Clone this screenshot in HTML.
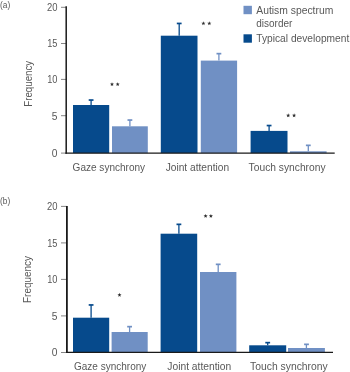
<!DOCTYPE html>
<html><head><meta charset="utf-8">
<style>
html,body{margin:0;padding:0;background:#fff;}
body{width:350px;height:372px;overflow:hidden;font-family:"Liberation Sans",sans-serif;}
svg{display:block;opacity:0.999;will-change:transform;}
text{font-family:"Liberation Sans",sans-serif;fill:#585858;}
</style></head><body>
<svg width="350" height="372" viewBox="0 0 350 372">
<rect width="350" height="372" fill="#fff"/>
<g>
<text x="0" y="8.2" font-size="9" textLength="10.2" lengthAdjust="spacingAndGlyphs">(a)</text>
<text x="47.0" y="11.1" font-size="11" textLength="10.5" lengthAdjust="spacingAndGlyphs">20</text>
<line x1="61" y1="7.3" x2="66.2" y2="7.3" stroke="#666" stroke-width="0.8"/>
<text x="47.2" y="47.3" font-size="11" textLength="10.3" lengthAdjust="spacingAndGlyphs">15</text>
<line x1="61" y1="43.5" x2="66.2" y2="43.5" stroke="#666" stroke-width="0.8"/>
<text x="47.2" y="83.2" font-size="11" textLength="10.3" lengthAdjust="spacingAndGlyphs">10</text>
<line x1="61" y1="79.4" x2="66.2" y2="79.4" stroke="#666" stroke-width="0.8"/>
<text x="51.8" y="119.5" font-size="11" textLength="5.7" lengthAdjust="spacingAndGlyphs">5</text>
<line x1="61" y1="115.7" x2="66.2" y2="115.7" stroke="#666" stroke-width="0.8"/>
<text x="51.8" y="156.9" font-size="11" textLength="5.7" lengthAdjust="spacingAndGlyphs">0</text>
<line x1="61" y1="153.1" x2="66.2" y2="153.1" stroke="#666" stroke-width="0.8"/>
<text transform="translate(31.8,106.8) rotate(-90)" font-size="11" textLength="46" lengthAdjust="spacingAndGlyphs">Frequency</text>
<rect x="73" y="105" width="36.2" height="48.1" fill="#064a8c"/>
<path d="M91.1 105V100" stroke="#064a8c" stroke-width="1.3" fill="none"/><rect x="88.7" y="99.2" width="4.8" height="1.7" fill="#064a8c"/>
<rect x="112" y="126.3" width="35.8" height="26.8" fill="#7090c4"/>
<path d="M129.9 126.3V120" stroke="#7090c4" stroke-width="1.3" fill="none"/><rect x="127.5" y="119.2" width="4.8" height="1.7" fill="#7090c4"/>
<rect x="160.8" y="35.7" width="36.7" height="117.4" fill="#064a8c"/>
<path d="M179.2 35.7V23.4" stroke="#064a8c" stroke-width="1.3" fill="none"/><rect x="176.8" y="22.6" width="4.8" height="1.7" fill="#064a8c"/>
<rect x="200.8" y="60.6" width="36.3" height="92.5" fill="#7090c4"/>
<path d="M218.9 60.6V53.6" stroke="#7090c4" stroke-width="1.3" fill="none"/><rect x="216.5" y="52.8" width="4.8" height="1.7" fill="#7090c4"/>
<rect x="250.6" y="130.9" width="36.9" height="22.2" fill="#064a8c"/>
<path d="M269.1 130.9V125.5" stroke="#064a8c" stroke-width="1.3" fill="none"/><rect x="266.7" y="124.7" width="4.8" height="1.7" fill="#064a8c"/>
<rect x="290" y="151.3" width="36.6" height="1.8" fill="#7090c4"/>
<path d="M308.3 151.3V145.3" stroke="#7090c4" stroke-width="1.3" fill="none"/><rect x="305.9" y="144.5" width="4.8" height="1.7" fill="#7090c4"/>
<line x1="66.2" y1="6.2" x2="66.2" y2="153.7" stroke="#1a1a1a" stroke-width="1.5"/>
<line x1="65.45" y1="153.1" x2="334.7" y2="153.1" stroke="#1a1a1a" stroke-width="1.2"/>
<text x="72.6" y="171.4" font-size="10.8" textLength="72.5" lengthAdjust="spacingAndGlyphs">Gaze synchrony</text>
<text x="165.7" y="171.4" font-size="10.8" textLength="63.4" lengthAdjust="spacingAndGlyphs">Joint attention</text>
<text x="248.6" y="171.4" font-size="10.8" textLength="77" lengthAdjust="spacingAndGlyphs">Touch synchrony</text>
<polygon points="112.00,82.15 112.53,83.57 114.04,83.64 112.86,84.58 113.26,86.04 112.00,85.20 110.74,86.04 111.14,84.58 109.96,83.64 111.47,83.57" fill="#2e2e2e"/>
<polygon points="117.70,82.15 118.23,83.57 119.74,83.64 118.56,84.58 118.96,86.04 117.70,85.20 116.44,86.04 116.84,84.58 115.66,83.64 117.17,83.57" fill="#2e2e2e"/>
<polygon points="203.40,21.25 203.93,22.67 205.44,22.74 204.26,23.68 204.66,25.14 203.40,24.30 202.14,25.14 202.54,23.68 201.36,22.74 202.87,22.67" fill="#2e2e2e"/>
<polygon points="209.30,21.25 209.83,22.67 211.34,22.74 210.16,23.68 210.56,25.14 209.30,24.30 208.04,25.14 208.44,23.68 207.26,22.74 208.77,22.67" fill="#2e2e2e"/>
<polygon points="288.20,113.35 288.73,114.77 290.24,114.84 289.06,115.78 289.46,117.24 288.20,116.40 286.94,117.24 287.34,115.78 286.16,114.84 287.67,114.77" fill="#2e2e2e"/>
<polygon points="294.10,113.35 294.63,114.77 296.14,114.84 294.96,115.78 295.36,117.24 294.10,116.40 292.84,117.24 293.24,115.78 292.06,114.84 293.57,114.77" fill="#2e2e2e"/>
<rect x="243.5" y="5.8" width="8.4" height="8.4" fill="#7090c4"/>
<rect x="243.5" y="34.3" width="8.4" height="8.4" fill="#064a8c"/>
<text x="256.3" y="14" font-size="10.8" textLength="77" lengthAdjust="spacingAndGlyphs">Autism spectrum</text>
<text x="256.3" y="26.6" font-size="10.8" textLength="36" lengthAdjust="spacingAndGlyphs">disorder</text>
<text x="256.3" y="42.3" font-size="10.8" textLength="93" lengthAdjust="spacingAndGlyphs">Typical development</text>
</g>
<g>
<text x="0" y="203.5" font-size="9" textLength="10.2" lengthAdjust="spacingAndGlyphs">(b)</text>
<text x="47.0" y="210.2" font-size="11" textLength="10.5" lengthAdjust="spacingAndGlyphs">20</text>
<line x1="61" y1="206.4" x2="66.9" y2="206.4" stroke="#666" stroke-width="0.8"/>
<text x="47.2" y="246.7" font-size="11" textLength="10.3" lengthAdjust="spacingAndGlyphs">15</text>
<line x1="61" y1="242.9" x2="66.9" y2="242.9" stroke="#666" stroke-width="0.8"/>
<text x="47.2" y="283.2" font-size="11" textLength="10.3" lengthAdjust="spacingAndGlyphs">10</text>
<line x1="61" y1="279.4" x2="66.9" y2="279.4" stroke="#666" stroke-width="0.8"/>
<text x="51.8" y="319.7" font-size="11" textLength="5.7" lengthAdjust="spacingAndGlyphs">5</text>
<line x1="61" y1="315.9" x2="66.9" y2="315.9" stroke="#666" stroke-width="0.8"/>
<text x="51.8" y="356.3" font-size="11" textLength="5.7" lengthAdjust="spacingAndGlyphs">0</text>
<line x1="61" y1="352.5" x2="66.9" y2="352.5" stroke="#666" stroke-width="0.8"/>
<text transform="translate(30.6,303) rotate(-90)" font-size="11" textLength="47" lengthAdjust="spacingAndGlyphs">Frequency</text>
<rect x="73" y="317.7" width="36.2" height="34.6" fill="#064a8c"/>
<path d="M91.1 317.7V304.9" stroke="#064a8c" stroke-width="1.3" fill="none"/><rect x="88.7" y="304.1" width="4.8" height="1.7" fill="#064a8c"/>
<rect x="111.6" y="332" width="36.1" height="20.3" fill="#7090c4"/>
<path d="M129.6 332V326.6" stroke="#7090c4" stroke-width="1.3" fill="none"/><rect x="127.2" y="325.8" width="4.8" height="1.7" fill="#7090c4"/>
<rect x="160.6" y="233.7" width="36.6" height="118.6" fill="#064a8c"/>
<path d="M178.9 233.7V224.3" stroke="#064a8c" stroke-width="1.3" fill="none"/><rect x="176.5" y="223.5" width="4.8" height="1.7" fill="#064a8c"/>
<rect x="200" y="272" width="36.4" height="80.3" fill="#7090c4"/>
<path d="M218.2 272V264.3" stroke="#7090c4" stroke-width="1.3" fill="none"/><rect x="215.8" y="263.5" width="4.8" height="1.7" fill="#7090c4"/>
<rect x="249.2" y="345.3" width="37.0" height="7.0" fill="#064a8c"/>
<path d="M267.7 345.3V342.6" stroke="#064a8c" stroke-width="1.3" fill="none"/><rect x="265.3" y="341.8" width="4.8" height="1.7" fill="#064a8c"/>
<rect x="288" y="348" width="36.9" height="4.3" fill="#7090c4"/>
<path d="M306.4 348V344.3" stroke="#7090c4" stroke-width="1.3" fill="none"/><rect x="304.1" y="343.5" width="4.8" height="1.7" fill="#7090c4"/>
<line x1="66.9" y1="205.9" x2="66.9" y2="352.9" stroke="#1a1a1a" stroke-width="1.8"/>
<line x1="66.0" y1="352.3" x2="333" y2="352.3" stroke="#1a1a1a" stroke-width="1.2"/>
<text x="74" y="369.5" font-size="10.8" textLength="72.3" lengthAdjust="spacingAndGlyphs">Gaze synchrony</text>
<text x="167.3" y="369.5" font-size="10.8" textLength="64" lengthAdjust="spacingAndGlyphs">Joint attention</text>
<text x="250.1" y="369.5" font-size="10.8" textLength="77.6" lengthAdjust="spacingAndGlyphs">Touch synchrony</text>
<polygon points="119.50,292.85 120.03,294.27 121.54,294.34 120.36,295.28 120.76,296.74 119.50,295.90 118.24,296.74 118.64,295.28 117.46,294.34 118.97,294.27" fill="#2e2e2e"/>
<polygon points="205.60,213.95 206.13,215.37 207.64,215.44 206.46,216.38 206.86,217.84 205.60,217.00 204.34,217.84 204.74,216.38 203.56,215.44 205.07,215.37" fill="#2e2e2e"/>
<polygon points="210.90,213.95 211.43,215.37 212.94,215.44 211.76,216.38 212.16,217.84 210.90,217.00 209.64,217.84 210.04,216.38 208.86,215.44 210.37,215.37" fill="#2e2e2e"/>
</g>
</svg>
</body></html>
